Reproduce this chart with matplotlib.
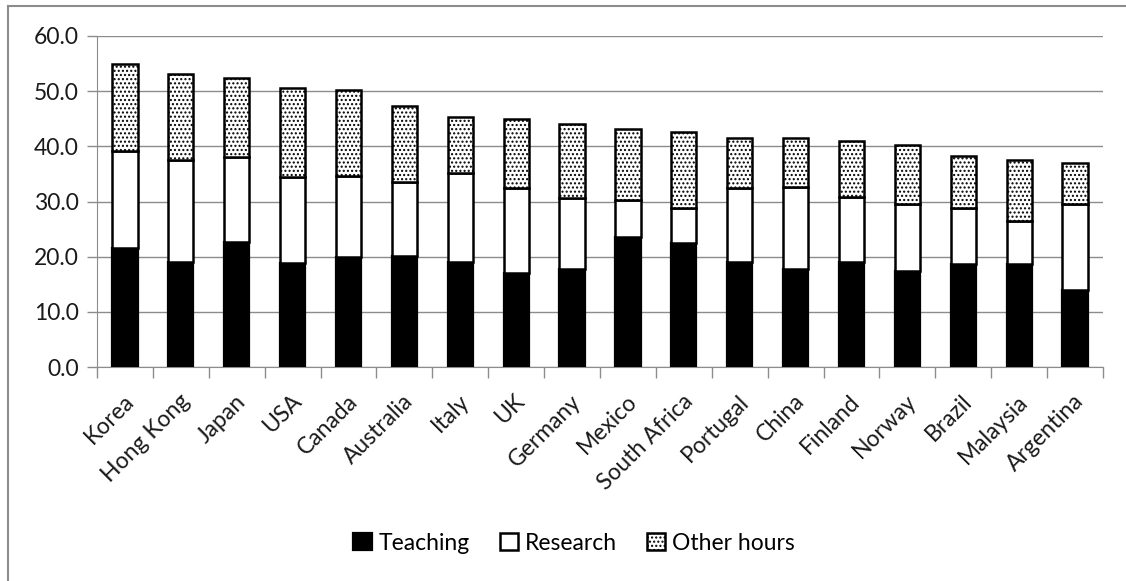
import matplotlib
matplotlib.use("Agg")
import matplotlib.pyplot as plt
import numpy as np
from matplotlib.lines import Line2D
import matplotlib.transforms as mtransforms

countries = ["Korea", "Hong Kong", "Japan", "USA", "Canada", "Australia", "Italy", "UK",
             "Germany", "Mexico", "South Africa", "Portugal", "China", "Finland", "Norway",
             "Brazil", "Malaysia", "Argentina"]
teaching = [21.6, 19.1, 22.6, 18.9, 20.0, 20.2, 19.1, 17.1, 17.8, 23.5, 22.4, 19.1, 17.7, 19.1, 17.4, 18.7, 18.7, 14.0]
research_top = [39.1, 37.6, 38.1, 34.5, 34.7, 33.5, 35.1, 32.4, 30.7, 30.2, 28.9, 32.4, 32.6, 30.9, 29.6, 28.9, 26.4, 29.6]
totals = [55.0, 53.2, 52.4, 50.5, 50.3, 47.3, 45.4, 44.9, 44.0, 43.1, 42.6, 41.6, 41.5, 41.0, 40.2, 38.2, 37.5, 37.0]
yticks = [0, 10, 20, 30, 40, 50, 60]

research = [r - t for r, t in zip(research_top, teaching)]
other = [tot - r for tot, r in zip(totals, research_top)]

plt.rcParams['font.family'] = ['Lato', 'DejaVu Sans']
plt.rcParams['hatch.linewidth'] = 1.0

W, H = 1126, 581
fig = plt.figure(figsize=(W / 100, H / 100), dpi=100)
ax = fig.add_axes([97 / W, 1 - 367 / H, (1103 - 97) / W, (367 - 36) / H])

x = np.arange(len(countries))
w = 0.45
ax.bar(x, teaching, w, color='black', edgecolor='black', linewidth=1.6, label='Teaching', zorder=3)
ax.bar(x, research, w, bottom=teaching, color='white', edgecolor='black', linewidth=1.8,
       label='Research', zorder=3)
ax.bar(x, other, w, bottom=research_top, color='white', edgecolor='black', hatch='....',
       linewidth=1.8, label='Other hours', zorder=3)

txt = '#1a1a1a'
ax.set_xlim(-0.5, len(countries) - 0.5)
ax.set_ylim(0, 60)
ax.set_yticks(yticks)
ax.set_yticklabels([f"{v:.1f}" for v in yticks], fontsize=16.5, color=txt)
ax.yaxis.grid(True, color='#8c8c8c', linewidth=1.0, zorder=0)
ax.set_xticks(x)
ax.set_xticklabels(countries, rotation=45, ha='right', rotation_mode='anchor', fontsize=16.5, color=txt)
ax.tick_params(axis='x', length=0, pad=17)
offset = mtransforms.ScaledTranslation(-2 / 100, 0, fig.dpi_scale_trans)
for lab in ax.get_xticklabels():
    lab.set_transform(lab.get_transform() + offset)
ax.set_xticks(np.arange(-0.5, len(countries)), minor=True)
ax.tick_params(axis='x', which='minor', length=8, color='#8c8c8c', width=1.0)
ax.tick_params(axis='y', length=7, color='#8c8c8c', width=1.0, pad=6)
for s in ['top', 'right']:
    ax.spines[s].set_visible(False)
ax.spines['left'].set_color('#8c8c8c')
ax.spines['bottom'].set_color('#8c8c8c')

fig.legend(loc='center', bbox_to_anchor=(574 / W, 1 - 543 / H), ncol=3, frameon=False,
           fontsize=16.5, handlelength=0.8, handleheight=0.8, handletextpad=0.3,
           columnspacing=1.3)

# outer chart-area border (left and top edges visible in the reference)
fig.add_artist(Line2D([8 / W, 8 / W], [0, 1 - 6 / H], transform=fig.transFigure,
                      color='#8c8c8c', linewidth=1.5))
fig.add_artist(Line2D([8 / W, 1], [1 - 6 / H, 1 - 6 / H], transform=fig.transFigure,
                      color='#8c8c8c', linewidth=1.5))

fig.savefig("out.png", dpi=100)
